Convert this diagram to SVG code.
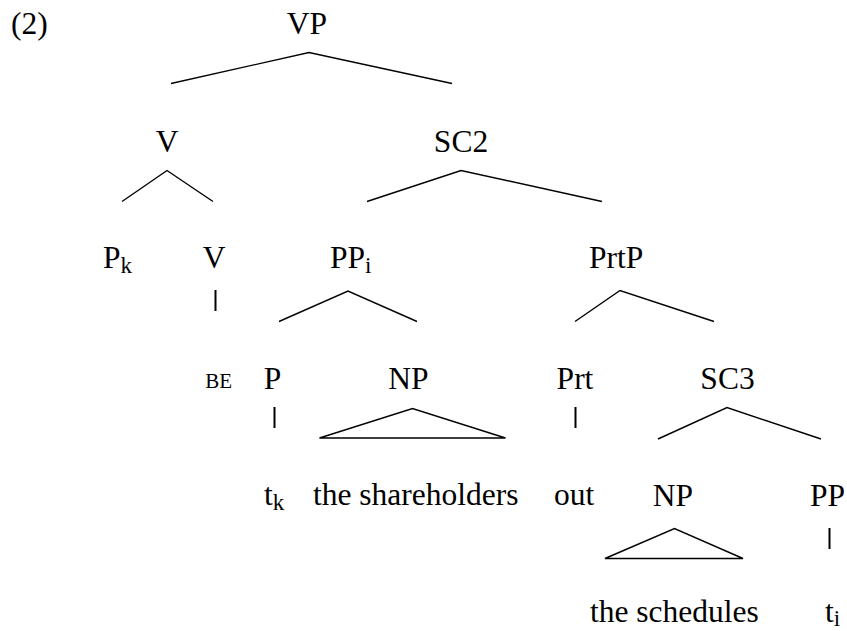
<svg xmlns="http://www.w3.org/2000/svg" width="847" height="631" viewBox="0 0 847 631">
<style>
text{font-family:"Liberation Serif","DejaVu Serif",serif;font-size:31.5px;fill:#000}
.m{text-anchor:middle}
.sub{font-size:23px}
.be{font-size:21px;text-anchor:end}
.e{stroke:#000;stroke-width:1.4;fill:none}
.bar{stroke:#000;stroke-width:2;fill:none}
</style>
<rect width="847" height="631" fill="#fff"/>
<g font-family="Liberation Serif, DejaVu Serif, serif">
<text x="11" y="34">(2)</text>
<g id="VP"><text class="m" x="307" y="34">VP</text></g>
<g id="V1"><text class="m" x="167" y="152">V</text></g>
<g id="SC2"><text class="m" x="461" y="152">SC2</text></g>
<g id="Pk"><text x="103" y="268">P<tspan class="sub" dy="5">k</tspan></text></g>
<g id="V2"><text class="m" x="214" y="268">V</text></g>
<g id="PPi"><text x="330" y="268">PP<tspan class="sub" dy="5">i</tspan></text></g>
<g id="PrtP"><text x="589" y="268">PrtP</text></g>
<g id="BE"><text class="be" x="232" y="388">BE</text></g>
<g id="P"><text class="m" x="272.5" y="389">P</text></g>
<g id="NP1"><text class="m" x="408.5" y="389">NP</text></g>
<g id="Prt"><text class="m" x="575" y="389">Prt</text></g>
<g id="SC3"><text class="m" x="727.5" y="389">SC3</text></g>
<g id="tk"><text x="264" y="505">t<tspan class="sub" dy="5">k</tspan></text></g>
<g id="shareholders"><text x="313" y="505">the shareholders</text></g>
<g id="out"><text x="554" y="505">out</text></g>
<g id="NP2"><text class="m" x="673" y="506">NP</text></g>
<g id="PP"><text x="810" y="506">PP</text></g>
<g id="schedules"><text x="590" y="622">the schedules</text></g>
<g id="ti"><text x="825" y="622">t<tspan class="sub" dy="4">i</tspan></text></g>
</g>
<g id="connectors">
<polyline class="e" points="171,83.5 309,52.5 452,83.5"/>
<polyline class="e" points="122,201.5 167,170.5 213,201.5"/>
<polyline class="e" points="367,201.5 461,170.5 602,201.5"/>
<line class="bar" x1="215.5" y1="290" x2="215.5" y2="311"/>
<polyline class="e" points="279,321.5 348,291 417,321.5"/>
<polyline class="e" points="575,321.5 620,290.5 714,321.5"/>
<line class="bar" x1="274.5" y1="407" x2="274.5" y2="428"/>
<polygon class="e" points="319.5,438 412.5,408.5 505.5,438"/>
<line class="bar" x1="575.5" y1="407" x2="575.5" y2="428"/>
<polyline class="e" points="658,439 727,407.5 821,439"/>
<polygon class="e" points="605,558.5 674.5,528.5 743,558.5"/>
<line class="bar" x1="829.5" y1="528" x2="829.5" y2="549"/>
</g>
</svg>
